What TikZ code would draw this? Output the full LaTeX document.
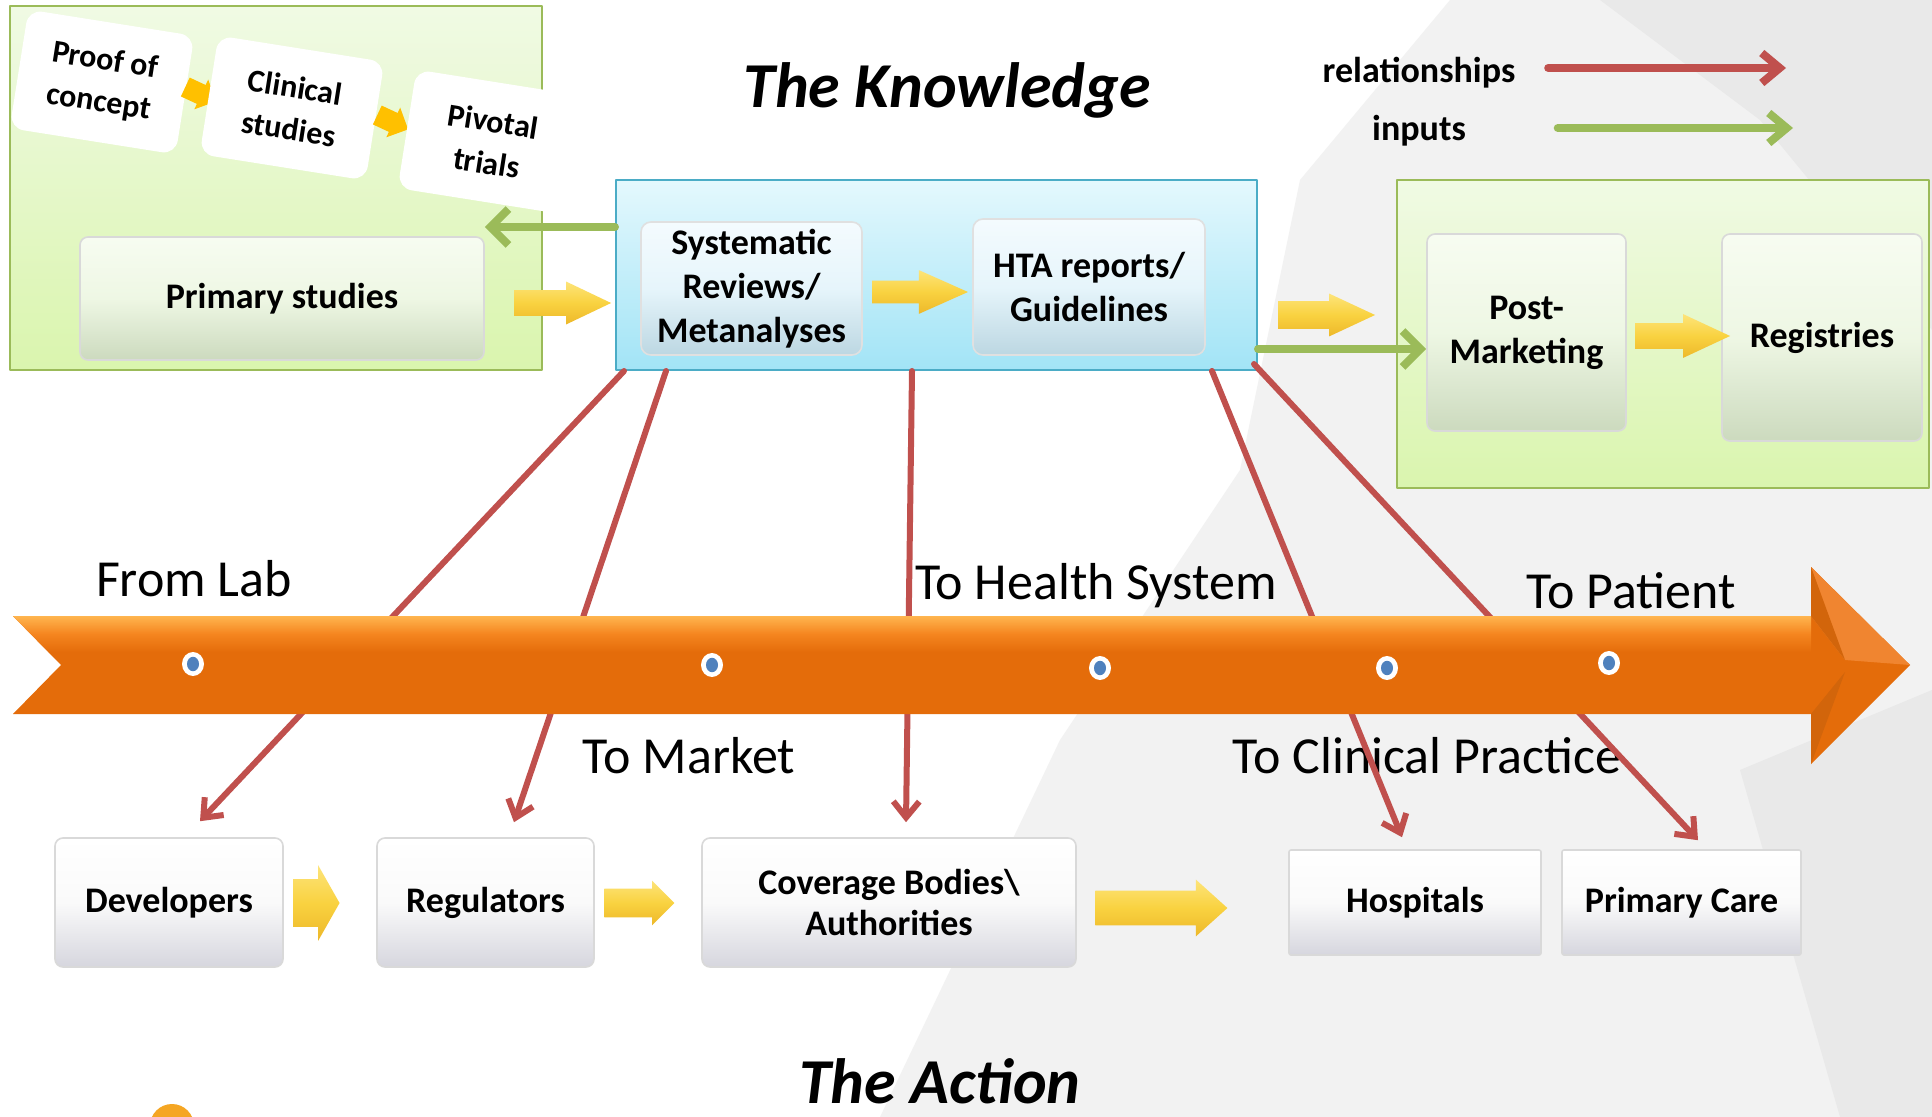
\documentclass[tikz,border=0pt]{standalone}
\usepackage{fontspec}
\setmainfont{Carlito}
\usepackage{tikz}
\usetikzlibrary{positioning}
\usetikzlibrary{shapes.arrows}
\usetikzlibrary{arrows.meta}
\definecolor{relred}{HTML}{C0504D}
\definecolor{inpgreen}{HTML}{9BBB59}
\definecolor{knblue}{HTML}{4BACC6}
\definecolor{areagreentop}{HTML}{F0FAE4}
\definecolor{areagreenbot}{HTML}{DAF5AE}
\definecolor{areabluetop}{HTML}{E4F8FD}
\definecolor{areabluebot}{HTML}{A2E4F6}
\definecolor{gboxtop}{HTML}{F7FCF1}
\definecolor{gboxmid}{HTML}{EEF7E4}
\definecolor{gboxbot}{HTML}{CCDABE}
\definecolor{bboxtop}{HTML}{F4FBFE}
\definecolor{bboxmid}{HTML}{E6F5FB}
\definecolor{bboxbot}{HTML}{BCD7E2}
\definecolor{wboxmid}{HTML}{FAFAFA}
\definecolor{wboxbot}{HTML}{D6D6DE}
\definecolor{bandorange}{HTML}{E46C0A}
\definecolor{bandmid}{HTML}{F5851F}
\definecolor{bandlight}{HTML}{FFB54F}
\definecolor{bandhead}{HTML}{F08530}
\definecolor{bandshade}{HTML}{D2650B}
\definecolor{dotblue}{HTML}{4F81BD}
\definecolor{shard}{HTML}{F2F2F2}
\definecolor{sharddark}{HTML}{E9E9E9}
\definecolor{yellowtop}{HTML}{FDE47A}
\definecolor{yellowmid}{HTML}{F9D240}
\definecolor{yellowbot}{HTML}{EDB82A}
\definecolor{chevgold}{HTML}{FFC000}
\definecolor{logoorange}{HTML}{F5A623}
\begin{document}
\begin{tikzpicture}[x=0.5pt,y=-0.5pt,line cap=round,line join=round,
rel/.style={color=relred,line width=3pt,-{Straight Barb[length=8pt,width=13pt]}},
inp/.style={color=inpgreen,line width=4pt,-{Straight Barb[length=9pt,width=18pt]}},
greenarea/.style={draw=inpgreen,line width=1pt,top color=areagreentop,bottom color=areagreenbot,inner sep=0pt},
bluearea/.style={draw=knblue,line width=1pt,top color=areabluetop,bottom color=areabluebot,inner sep=0pt},
gbox/.style={draw=black!15,line width=0.8pt,rounded corners=4pt,top color=gboxtop,bottom color=gboxbot,middle color=gboxmid,font=\fontsize{18}{22}\selectfont\bfseries,align=center,inner sep=0pt},
bbox/.style={draw=black!12,line width=0.8pt,rounded corners=5pt,top color=bboxtop,bottom color=bboxbot,middle color=bboxmid,font=\fontsize{18}{22}\selectfont\bfseries,align=center,inner sep=0pt},
wbox/.style={draw=black!15,line width=0.8pt,rounded corners=4pt,top color=white,bottom color=wboxbot,middle color=wboxmid,font=\fontsize{18}{20.5}\selectfont\bfseries,align=center,inner sep=0pt},
tile/.style={fill=white,rounded corners=7pt,minimum width=84pt,minimum height=60pt,rotate=-9,align=center,font=\fontsize{16}{21}\selectfont\bfseries,inner sep=0pt},
chev/.style={single arrow,fill=chevgold,minimum height=17pt,minimum width=16pt,single arrow head extend=3pt,inner xsep=0pt,inner ysep=5pt,rotate=-25},
yarr/.style n args={5}{single arrow,top color=yellowtop,bottom color=yellowbot,middle color=yellowmid,inner xsep=0pt,minimum height=#1,minimum width=#2,single arrow head extend=#3,single arrow tip angle=#4,inner ysep=#5,anchor=tip},
tag/.style={font=\fontsize{26}{30}\selectfont,inner sep=0pt,anchor=base},
ttl/.style={font=\fontsize{32}{38}\selectfont\bfseries\itshape,inner sep=0pt,anchor=base},
leg/.style={font=\fontsize{18}{22}\selectfont\bfseries,inner sep=0pt,anchor=base}]
\useasboundingbox (0,0) rectangle (1932,1117);
\fill[white] (0,0) rectangle (1932,1117);
\fill[shard] (1450,0) -- (1932,0) -- (1932,1117) -- (880,1117) -- (1060,740) -- (1240,470) -- (1300,180) -- cycle;
\fill[sharddark] (1600,0) -- (1932,0) -- (1932,330) -- (1760,120) -- cycle;
\fill[sharddark] (1740,770) -- (1932,690) -- (1932,1117) -- (1840,1117) -- cycle;
\node[greenarea,minimum width=266pt,minimum height=182pt] (studies) at (276,188) {};
\begin{scope}
\clip (studies.north west) rectangle (studies.south east);
\node[tile] (poc) at (102,82) {Proof of\\concept};
\node[chev] (c1) at (196,92) {};
\node[tile] (cs) at (292,108) {Clinical\\studies};
\node[chev] (c2) at (388,120) {};
\node[tile] (pt) at (490,142) {Pivotal\\trials};
\end{scope}
\node[gbox,minimum width=202pt,minimum height=61.5pt] (ps) at (282,298.5) {Primary studies};
\node[bluearea,minimum width=320.5pt,minimum height=95pt] (kn) at (936.5,275) {};
\node[bbox,minimum width=110.5pt,minimum height=66.5pt] (sr) at (751.5,288.5) {Systematic\\Reviews/\\Metanalyses};
\node[bbox,minimum width=116pt,minimum height=68pt] (hta) at (1089,287) {HTA reports/\\Guidelines};
\node[greenarea,minimum width=266pt,minimum height=154pt] (post) at (1663,334) {};
\node[gbox,minimum width=99.5pt,minimum height=98.5pt] (pm) at (1526.5,332.5) {Post-\\Marketing};
\node[gbox,minimum width=100pt,minimum height=103.5pt] (reg) at (1822,337.5) {Registries};
\node[yarr={48.5pt}{21pt}{4.25pt}{51}{6.25pt}] (a1) at (612,303) {};
\node[yarr={48pt}{21.5pt}{5.25pt}{48}{5.5pt}] (a2) at (969,292) {};
\node[yarr={48.5pt}{21pt}{3.75pt}{50}{6.75pt}] (a3) at (1376,315) {};
\node[yarr={47.5pt}{21.5pt}{4.5pt}{50}{6.25pt}] (a4) at (1731,336) {};
\draw[inp] ([yshift=24pt]kn.west) -- ([yshift=35.75pt]ps.east);
\draw[inp] ([yshift=-37pt]kn.east) -- ([yshift=-8.25pt]pm.west);
\node[leg] (rel) at (1419,82.5) {relationships};
\node[leg] (inps) at (1419,140.5) {inputs};
\coordinate (relend) at (1786,68);
\coordinate (inpend) at (1793,128);
\draw[color=relred,line width=4pt,-{Straight Barb[length=9pt,width=15pt]}] ([xshift=16.25pt,yshift=7.25pt]rel.base east) -- (relend);
\draw[color=inpgreen,line width=4pt,-{Straight Barb[length=9pt,width=15pt]}] ([xshift=45.75pt,yshift=6.25pt]inps.base east) -- (inpend);
\node[ttl] (knowl) at (947,108) {The Knowledge};
\node[tag] (fromlab) at (194,596) {From Lab};
\node[tag] (tohealth) at (1096,599) {To Health System};
\node[tag] (topatient) at (1631,608) {To Patient};
\node[tag] (tomarket) at (689,773) {To Market};
\node[tag] (toclinic) at (1427,773) {To Clinical Practice};
\node[wbox,minimum width=114pt,minimum height=64.5pt] (dev) at (169,902.5) {Developers};
\node[wbox,minimum width=108.5pt,minimum height=64.5pt] (regu) at (485.5,902.5) {Regulators};
\node[wbox,minimum width=187pt,minimum height=64.5pt] (cov) at (889,902.5) {Coverage Bodies\textbackslash\\Authorities};
\node[wbox,rounded corners=1pt,minimum width=126pt,minimum height=52.5pt] (hosp) at (1415,902.5) {Hospitals};
\node[wbox,rounded corners=1pt,minimum width=119.5pt,minimum height=52.5pt] (pc) at (1681.5,902.5) {Primary Care};
\node[yarr={23pt}{37.5pt}{7pt}{121}{11.75pt}] (a5) at (340,903) {};
\node[yarr={35pt}{22pt}{4pt}{90}{7pt}] (a6) at (675,903) {};
\node[yarr={66pt}{28pt}{5.5pt}{84}{8.5pt}] (a7) at (1228,908) {};
\draw[rel] ([xshift=4.5pt]kn.south west) -- ([xshift=15.5pt,yshift=8pt]dev.north);
\draw[rel] ([xshift=25.5pt]kn.south west) -- ([xshift=14.25pt,yshift=7.5pt]regu.north);
\draw[rel] ([xshift=-12.25pt]kn.south) -- ([xshift=8.5pt,yshift=7.5pt]cov.north);
\draw[rel] ([xshift=-23pt]kn.south east) -- ([xshift=-6.5pt,yshift=6pt]hosp.north);
\draw[rel] ([xshift=-2pt,yshift=3.5pt]kn.south east) -- ([xshift=8.25pt,yshift=4.5pt]pc.north);
\fill[bandorange] (13,616) -- (1811,616) -- (1811,567) -- (1910,665) -- (1811,764) -- (1811,714) -- (13,714) -- (61,665) -- cycle;
\begin{scope}
\clip (13,616) -- (1811,616) -- (1811,714) -- (13,714) -- (61,665) -- cycle;
\shade[top color=bandlight,bottom color=bandorange,middle color=bandmid] (13,616) rectangle (1811,652);
\end{scope}
\fill[bandhead] (1811,567) -- (1910,665) -- (1845,660) -- (1811,616) -- cycle;
\fill[bandshade] (1811,567) -- (1845,660) -- (1811,616) -- cycle;
\fill[bandshade] (1811,764) -- (1845,672) -- (1811,714) -- cycle;
\fill[white] (193,664) ellipse [x radius=5.5pt,y radius=6pt];
\fill[dotblue] (193,664) ellipse [x radius=3pt,y radius=3.6pt];
\fill[white] (712,665) ellipse [x radius=5.5pt,y radius=6pt];
\fill[dotblue] (712,665) ellipse [x radius=3pt,y radius=3.6pt];
\fill[white] (1100,668) ellipse [x radius=5.5pt,y radius=6pt];
\fill[dotblue] (1100,668) ellipse [x radius=3pt,y radius=3.6pt];
\fill[white] (1387,668) ellipse [x radius=5.5pt,y radius=6pt];
\fill[dotblue] (1387,668) ellipse [x radius=3pt,y radius=3.6pt];
\fill[white] (1609,663) ellipse [x radius=5.5pt,y radius=6pt];
\fill[dotblue] (1609,663) ellipse [x radius=3pt,y radius=3.6pt];
\node[ttl] (action) at (940,1103) {The Action};
\fill[logoorange] (172,1126) circle (11pt);
\end{tikzpicture}
\end{document}
